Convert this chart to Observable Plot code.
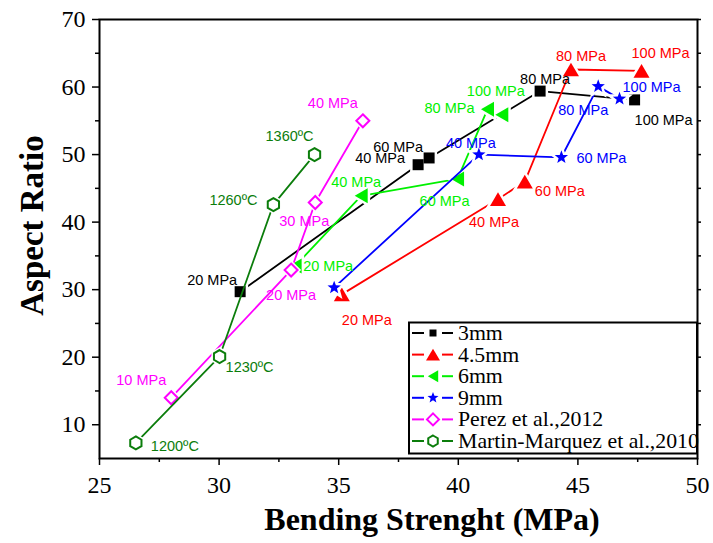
<!DOCTYPE html>
<html>
<head>
<meta charset="utf-8">
<script src="https://cdn.jsdelivr.net/npm/d3@7"></script>
<script src="https://cdn.jsdelivr.net/npm/@observablehq/plot@0.6"></script>
<style>
  body { margin: 0; background: #fff; }
  svg { display: block; }
</style>
</head>
<body>
<div id="chart"></div>
<script>
// Aspect ratio vs. bending strength for each sample thickness,
// with two literature series for comparison.
const seriesNames = ["3mm", "4.5mm", "6mm", "9mm", "Perez et al.,2012", "Martin-Marquez et al.,2010"];
const seriesColors = ["#000000", "#ff0000", "#00f000", "#0000ff", "#ff00ff", "#0b7d0b"];

const pressureLabels = ["20 MPa", "40 MPa", "60 MPa", "80 MPa", "100 MPa"];

const strength3mm = [30.88, 38.32, 38.78, 43.42, 47.37];
const ratio3mm    = [29.7, 48.5, 49.5, 59.4, 58.1];

const strength45mm = [35.13, 41.66, 42.78, 44.71, 47.66];
const ratio45mm    = [29.3, 43.4, 46.0, 62.6, 62.4];

const strength6mm = [33.18, 35.94, 39.97, 41.22, 41.82];
const ratio6mm    = [33.5, 43.9, 46.4, 56.7, 55.9];

const strength9mm = [34.81, 40.86, 44.31, 45.85, 46.74];
const ratio9mm    = [30.3, 50.0, 49.6, 60.1, 58.25];
const labels9mm   = [null, "40 MPa", "60 MPa", "80 MPa", "100 MPa"];

const perezLabels   = ["10 MPa", "20 MPa", "30 MPa", "40 MPa"];
const strengthPerez = [28.0, 33.01, 34.02, 36.01];
const ratioPerez    = [14.0, 32.9, 42.9, 55.0];

const martinLabels   = ["1200ºC", "1230ºC", "1260ºC", "1360ºC"];
const strengthMartin = [26.52, 30.02, 32.27, 33.99];
const ratioMartin    = [7.3, 20.1, 42.6, 50.0];

const xTicks = [25, 30, 35, 40, 45, 50];
const xMinorTicks = [27.5, 32.5, 37.5, 42.5, 47.5];
const yTicks = [10, 20, 30, 40, 50, 60, 70];
const yMinorTicks = [15, 25, 35, 45, 55, 65];

const xTitle = "Bending Strenght (MPa)";
const yTitle = "Aspect Ratio";

// Label offsets (pixels) from each point, per series
const labelOffsets = [
  [[-28, -11], [-38, -6], [-31, -11], [5, -12], [29, 20]],
  [[25, 26], [-4, 23], [35, 10], [10, -13], [19, -17]],
  [[33, 0], [-5, -13], [-13, 22], [-38, -1], [-6, -23]],
  [[0, 0], [-8, -11], [40, 1], [-15, 24], [32, -11]],
  [[-30, -17], [0, 25], [-11, 19], [-30, -17]],
  [[39, 3], [30, 11], [-40, -4], [-25, -18]]
];

// Marker shapes; R is the half-extent in pixels (Plot passes size = πr²)
const sym = (fn) => ({ draw(ctx, size) { fn(ctx, Math.sqrt(size / Math.PI)); } });
const squareSym = sym((c, R) => { c.rect(-R, -R, 2 * R, 2 * R); });
const triUpSym = sym((c, R) => {
  const h = 1.7 * R;
  c.moveTo(0, -h / 2); c.lineTo(R, h / 2); c.lineTo(-R, h / 2); c.closePath();
});
const triLeftSym = sym((c, R) => {
  const w = 1.73 * R;
  c.moveTo(-w / 2, 0); c.lineTo(w / 2, -R); c.lineTo(w / 2, R); c.closePath();
});
const starSym = sym((c, R) => {
  const r = R * 0.42;
  for (let i = 0; i < 10; i++) {
    const a = -Math.PI / 2 + i * Math.PI / 5;
    const rr = i % 2 ? r : R;
    const px = rr * Math.cos(a), py = rr * Math.sin(a);
    i ? c.lineTo(px, py) : c.moveTo(px, py);
  }
  c.closePath();
});
const diamondSym = sym((c, R) => {
  c.moveTo(0, -R); c.lineTo(R, 0); c.lineTo(0, R); c.lineTo(-R, 0); c.closePath();
});
const hexSym = sym((c, R) => {
  for (let i = 0; i < 6; i++) {
    const a = -Math.PI / 2 + i * Math.PI / 3;
    const px = R * Math.cos(a), py = R * Math.sin(a);
    i ? c.lineTo(px, py) : c.moveTo(px, py);
  }
  c.closePath();
});

const seriesSymbols = [squareSym, triUpSym, triLeftSym, starSym, diamondSym, hexSym];
const seriesR = [5.5, 8, 7.5, 7, 6.5, 6.5];
const legendR = [3.5, 7, 6, 5.8, 6, 5.5];
const seriesOpen = [false, false, false, false, true, true];

const seriesData = [
  [strength3mm, ratio3mm, pressureLabels],
  [strength45mm, ratio45mm, pressureLabels],
  [strength6mm, ratio6mm, pressureLabels],
  [strength9mm, ratio9mm, labels9mm],
  [strengthPerez, ratioPerez, perezLabels],
  [strengthMartin, ratioMartin, martinLabels]
];

const series = seriesData.map(([xs, ys, labels], i) => ({
  name: seriesNames[i],
  color: seriesColors[i],
  rows: xs.map((x, j) => ({ x, y: ys[j], label: labels[j], off: labelOffsets[i][j] }))
}));

const marks = [];
for (const [i, s] of series.entries()) {
  marks.push(Plot.line(s.rows, { x: "x", y: "y", stroke: s.color, strokeWidth: 1.8 }));
  marks.push(Plot.dot(s.rows, {
    x: "x", y: "y", symbol: seriesSymbols[i], r: seriesR[i],
    fill: "white", stroke: "white", strokeWidth: 5
  }));
  marks.push(Plot.dot(s.rows, {
    x: "x", y: "y", symbol: seriesSymbols[i], r: seriesR[i],
    fill: seriesOpen[i] ? "white" : s.color,
    stroke: seriesOpen[i] ? s.color : "none",
    strokeWidth: 2
  }));
}
for (const s of series) {
  for (const row of s.rows) {
    if (!row.label) continue;
    marks.push(Plot.text([row], {
      x: "x", y: "y", text: "label",
      dx: row.off[0], dy: row.off[1],
      fill: s.color, fontFamily: "Liberation Sans, Arial, sans-serif", fontSize: 14.5
    }));
  }
}

const plot = Plot.plot({
  width: 713,
  height: 543,
  marginLeft: 99,
  marginRight: 16,
  marginTop: 19,
  marginBottom: 85,
  style: { fontFamily: "Liberation Serif, Times New Roman, serif", fontSize: "24px", color: "black", background: "white" },
  x: { domain: [25, 50] },
  y: { domain: [5, 70] },
  marks: [
    Plot.axisX({ ticks: xTicks, tickSize: 7, tickPadding: 10, tickFormat: d => d, label: null, strokeWidth: 1.5 }),
    Plot.axisX({ ticks: xMinorTicks, tickSize: 4, tickFormat: () => "", label: null, strokeWidth: 1.5 }),
    Plot.axisY({ ticks: yTicks, tickSize: 7, tickPadding: 7, tickFormat: d => d, label: null, strokeWidth: 1.5 }),
    Plot.axisY({ ticks: yMinorTicks, tickSize: 4, tickFormat: () => "", label: null, strokeWidth: 1.5 }),
    Plot.axisY({ anchor: "right", ticks: [...yTicks, ...yMinorTicks], tickSize: 3, tickFormat: () => "", label: null, strokeWidth: 1.5 }),
    ...marks,
    Plot.frame({ stroke: "black", strokeWidth: 2 })
  ]
});

document.getElementById("chart").appendChild(plot);

const svg = d3.select(plot);
const xScale = plot.scale("x"), yScale = plot.scale("y");
const frameLeft = xScale.range[0], frameRight = xScale.range[1];
const frameBottom = yScale.range[0], frameTop = yScale.range[1];

// Axis titles
svg.append("text")
  .attr("transform", `translate(${frameLeft - 68},${(frameTop + frameBottom) / 2 - 13}) rotate(-90)`)
  .attr("text-anchor", "middle")
  .attr("dy", "0.35em")
  .attr("font-family", "Liberation Serif, Times New Roman, serif")
  .attr("font-weight", "bold")
  .attr("font-size", 33)
  .attr("fill", "black")
  .text(yTitle);
svg.append("text")
  .attr("x", (frameLeft + frameRight) / 2 + 34)
  .attr("y", frameBottom + 72)
  .attr("text-anchor", "middle")
  .attr("font-family", "Liberation Serif, Times New Roman, serif")
  .attr("font-weight", "bold")
  .attr("font-size", 32)
  .attr("fill", "black")
  .text(xTitle);

// Legend box in the lower-right corner of the plot frame
const box = { w: 288, h: 131, gapBottom: 4.5 };
const lg = svg.append("g")
  .attr("transform", `translate(${frameRight - box.w},${frameBottom - box.gapBottom - box.h})`);
lg.append("rect")
  .attr("width", box.w).attr("height", box.h)
  .attr("fill", "white").attr("stroke", "black").attr("stroke-width", 2);
series.forEach((s, i) => {
  const row = lg.append("g").attr("transform", `translate(0,${10.5 + i * 21.6})`);
  row.append("line").attr("x1", 3).attr("x2", 15).attr("stroke", s.color).attr("stroke-width", 2);
  row.append("line").attr("x1", 33).attr("x2", 44).attr("stroke", s.color).attr("stroke-width", 2);
  row.append("path")
    .attr("transform", "translate(24,0)")
    .attr("d", d3.symbol(seriesSymbols[i], Math.PI * legendR[i] * legendR[i])())
    .attr("fill", seriesOpen[i] ? "white" : s.color)
    .attr("stroke", seriesOpen[i] ? s.color : "none")
    .attr("stroke-width", 2);
  row.append("text")
    .attr("x", 49).attr("y", 7)
    .attr("text-anchor", "start")
    .attr("font-family", "Liberation Serif, Times New Roman, serif")
    .attr("font-size", 21.8)
    .attr("fill", "black")
    .text(s.name);
});
</script>
</body>
</html>
